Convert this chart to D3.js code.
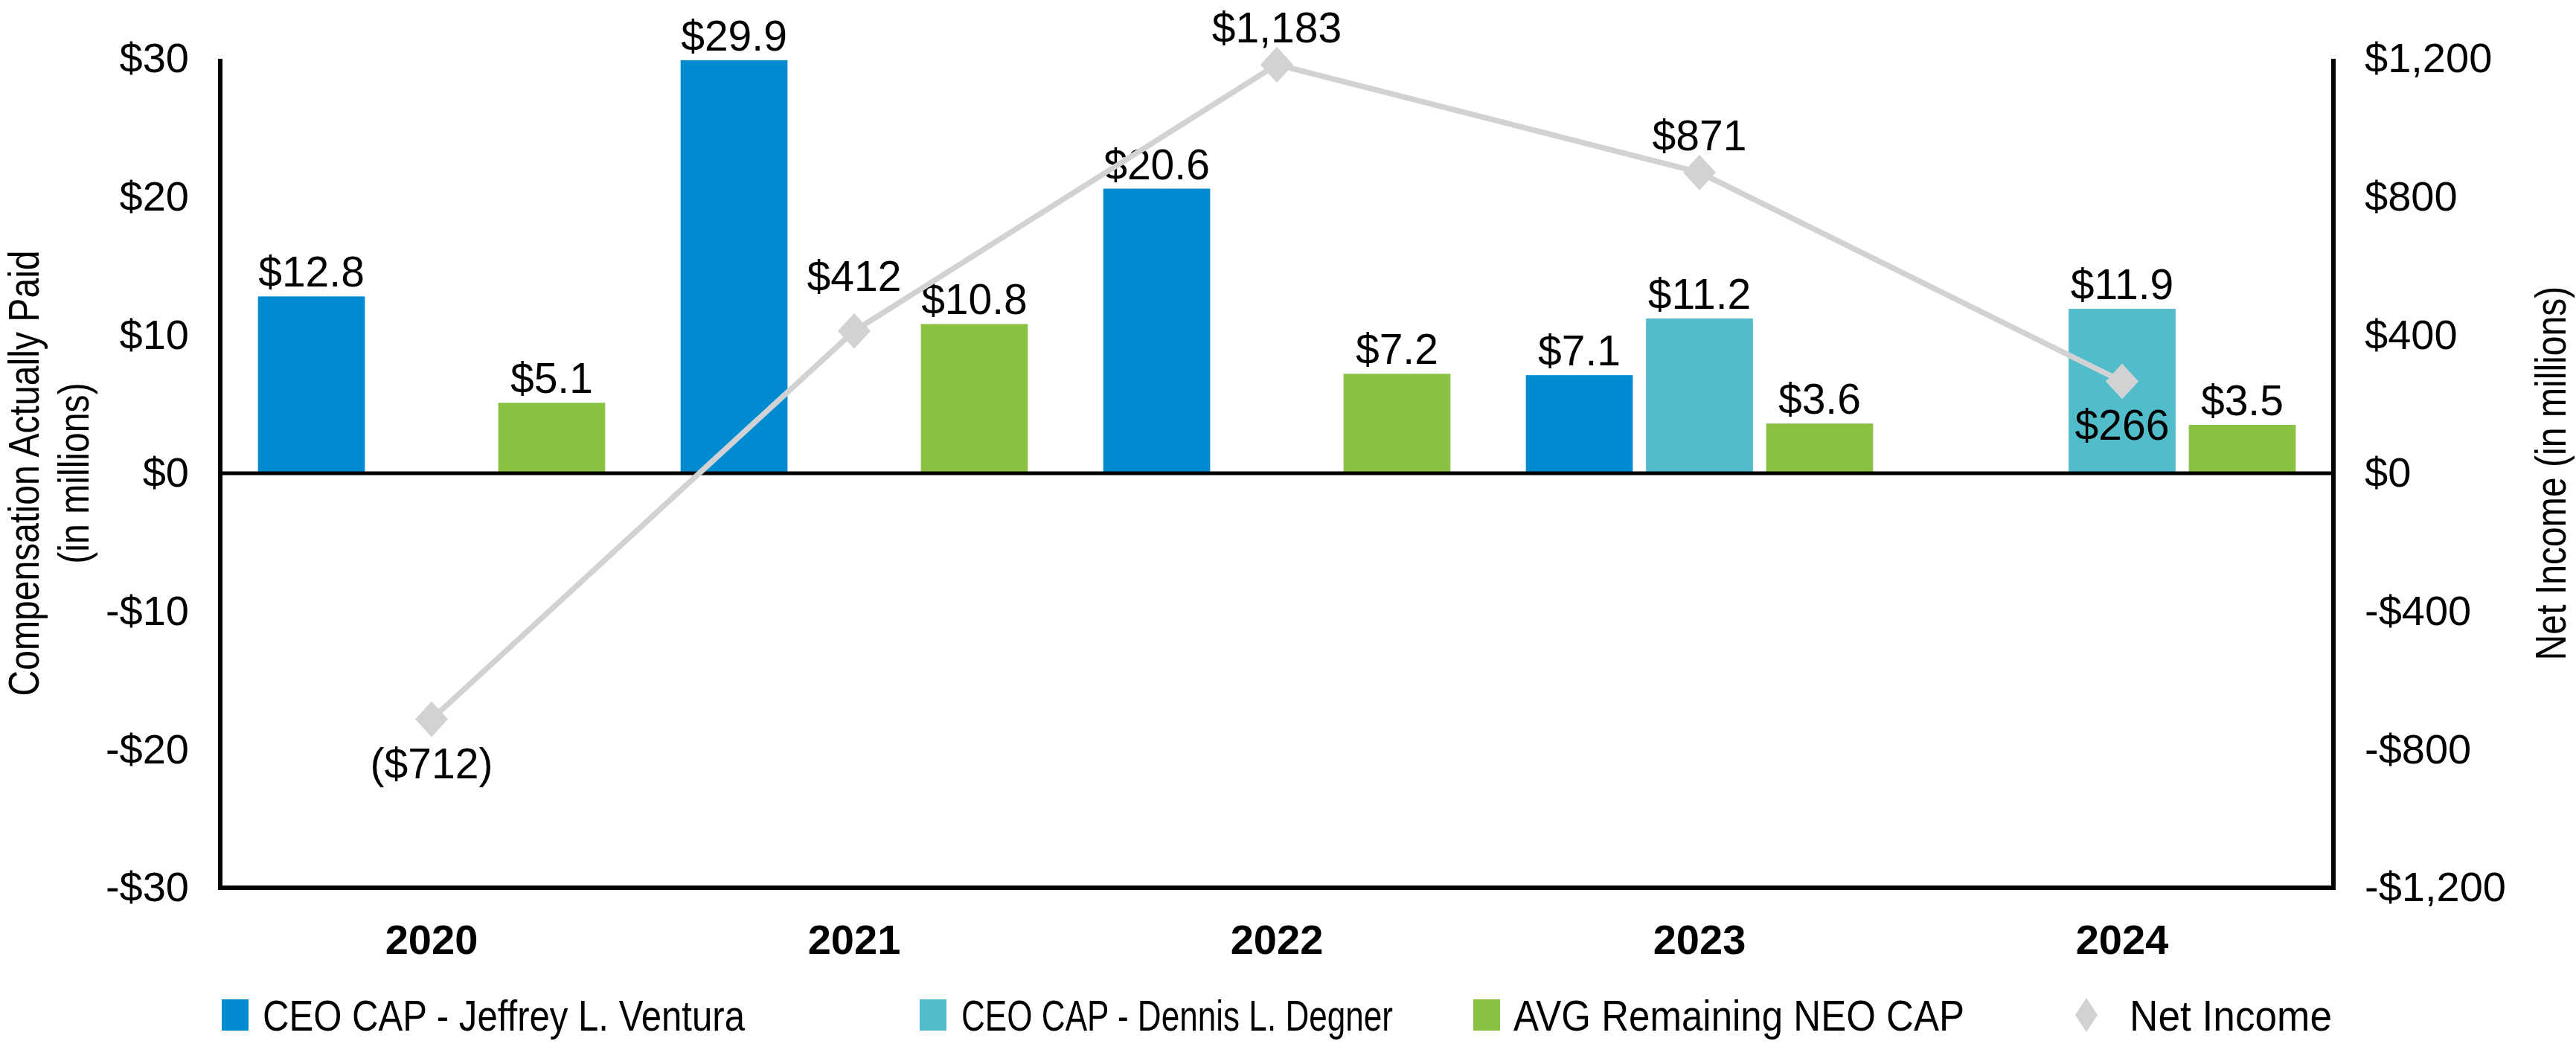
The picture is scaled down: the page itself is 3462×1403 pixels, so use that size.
<!DOCTYPE html>
<html><head><meta charset="utf-8">
<script src="https://cdn.jsdelivr.net/npm/d3@7"></script>
<style>
html,body{margin:0;padding:0;background:#fff;}
svg text{font-family:"Liberation Sans",Arial,Helvetica,sans-serif;fill:#000;}
</style></head>
<body><svg id="c" width="3462" height="1403"></svg>
<script>
const years = ["2020","2021","2022","2023","2024"];
const seriesNames = ["CEO CAP - Jeffrey L. Ventura","CEO CAP - Dennis L. Degner","AVG Remaining NEO CAP"];
const venturaCAP = [12.8, 29.9, 20.6, 7.1, null];
const degnerCAP = [null, null, null, 11.2, 11.9];
const neoCAP = [5.1, 10.8, 7.2, 3.6, 3.5];
const netIncome = [-712, 412, 1183, 871, 266];
const leftTicks = [30,20,10,0,-10,-20,-30];
const rightTicks = [1200,800,400,0,-400,-800,-1200];
const colors = ["#008bd1","#52bdca","#8bc143"];
const lineColor = "#d1d2d4";

const svg = d3.select("#c");
const L = 296, R = 3136, T = 79, B = 1193;
const FS = 56, LFS = 57, NFS = 58, NARROW = 0.83;

const x = d3.scaleBand().domain(years).range([L,R]).paddingInner(0).paddingOuter(0);
const xs = d3.scaleBand().domain(seriesNames).range([0,x.bandwidth()]).paddingInner(0.11).paddingOuter(0.314);
const y = d3.scaleLinear().domain([-30,30]).range([B,T]);
const y2 = d3.scaleLinear().domain([-1200,1200]).range([B,T]);

const series = [venturaCAP, degnerCAP, neoCAP];
const bars = [];
series.forEach((arr,si)=>arr.forEach((v,i)=>{ if(v!=null) bars.push({s:si,year:years[i],v}); }));

// condensed text helper
function narrowText(parent, tx, ty, rot, str, anchor, size){
  const g = parent.append("g").attr("transform",`translate(${tx},${ty}) rotate(${rot}) scale(${NARROW},1)`);
  g.append("text").attr("text-anchor",anchor).attr("font-size",size).text(str);
  return g;
}

// bars
svg.append("g").selectAll("rect").data(bars).join("rect")
  .attr("x",d=>x(d.year)+xs(seriesNames[d.s]))
  .attr("width",xs.bandwidth())
  .attr("y",d=>y(Math.max(0,d.v)))
  .attr("height",d=>Math.abs(y(d.v)-y(0)))
  .attr("fill",d=>colors[d.s]);

// bar labels
svg.append("g").selectAll("text").data(bars).join("text")
  .attr("x",d=>x(d.year)+xs(seriesNames[d.s])+xs.bandwidth()/2)
  .attr("y",d=>y(d.v)-13)
  .attr("text-anchor","middle")
  .attr("font-size",LFS)
  .text(d=>"$"+d3.format(".1f")(d.v));

// axes
const axL = svg.append("g").attr("transform",`translate(${L},0)`)
  .call(d3.axisLeft(y).tickValues(leftTicks).tickSize(0).tickPadding(42)
    .tickFormat(d=>(d<0?"-$":"$")+Math.abs(d)));
const axR = svg.append("g").attr("transform",`translate(${R},0)`)
  .call(d3.axisRight(y2).tickValues(rightTicks).tickSize(0).tickPadding(42)
    .tickFormat(d=>(d<0?"-$":"$")+d3.format(",")(Math.abs(d))));
[axL,axR].forEach(a=>{
  a.select(".domain").attr("stroke","#000").attr("stroke-width",6).attr("d",`M0,${T}V${B}`);
  a.selectAll("text").attr("font-size",FS).attr("font-family",null).attr("fill","#000");
});
// bottom frame and zero line
svg.append("line").attr("x1",L-3).attr("x2",R+3).attr("y1",B).attr("y2",B).attr("stroke","#000").attr("stroke-width",6);
svg.append("line").attr("x1",L).attr("x2",R).attr("y1",y(0)).attr("y2",y(0)).attr("stroke","#000").attr("stroke-width",5);

// year labels
svg.append("g").selectAll("text").data(years).join("text")
  .attr("x",d=>x(d)+x.bandwidth()/2).attr("y",1282)
  .attr("text-anchor","middle").attr("font-size",FS).attr("font-weight","bold")
  .text(d=>d);

// net income line
const pts = netIncome.map((v,i)=>({year:years[i],v}));
svg.append("path").datum(pts)
  .attr("d",d3.line().x(d=>x(d.year)+x.bandwidth()/2).y(d=>y2(d.v)))
  .attr("fill","none").attr("stroke",lineColor).attr("stroke-width",7.5);
const diamond = (hw,hh)=>`M0,${-hh}L${hw},0L0,${hh}L${-hw},0Z`;
svg.append("g").selectAll("path").data(pts).join("path")
  .attr("transform",d=>`translate(${x(d.year)+x.bandwidth()/2},${y2(d.v)})`)
  .attr("d",diamond(22,24)).attr("fill",lineColor);
const niFmt = v => v<0 ? "($"+d3.format(",")(-v)+")" : "$"+d3.format(",")(v);
const niLabelDy = [80, -54, -30, -30, 78];
svg.append("g").selectAll("text").data(pts).join("text")
  .attr("x",d=>x(d.year)+x.bandwidth()/2)
  .attr("y",(d,i)=>y2(d.v)+niLabelDy[i])
  .attr("text-anchor","middle").attr("font-size",LFS)
  .text(d=>niFmt(d.v));

// axis titles (condensed)
narrowText(svg, 52, y(0), -90, "Compensation Actually Paid", "middle", NFS);
narrowText(svg, 119, y(0), -90, "(in millions)", "middle", NFS);
narrowText(svg, 3448, y(0), -90, "Net Income (in millions)", "middle", NFS);

// legend
const legendItems = [
  {name:seriesNames[0],type:"rect",color:colors[0],x:298,tx:353,w:648},
  {name:seriesNames[1],type:"rect",color:colors[1],x:1236,tx:1292,w:580},
  {name:seriesNames[2],type:"rect",color:colors[2],x:1980,tx:2034,w:606},
  {name:"Net Income",type:"diamond",color:lineColor,x:2786,tx:2862,w:272}
];
legendItems.forEach(d=>{
  const g = svg.append("g").attr("transform",`translate(${d.x},1364)`);
  if(d.type==="rect") g.append("rect").attr("x",0).attr("y",-21).attr("width",36).attr("height",42).attr("fill",d.color);
  else g.append("path").attr("transform","translate(18,0)").attr("d",diamond(15,23)).attr("fill",d.color);
  svg.append("text").attr("x",d.tx).attr("y",1385).attr("font-size",NFS)
    .attr("textLength",d.w).attr("lengthAdjust","spacingAndGlyphs").text(d.name);
});
</script></body></html>
